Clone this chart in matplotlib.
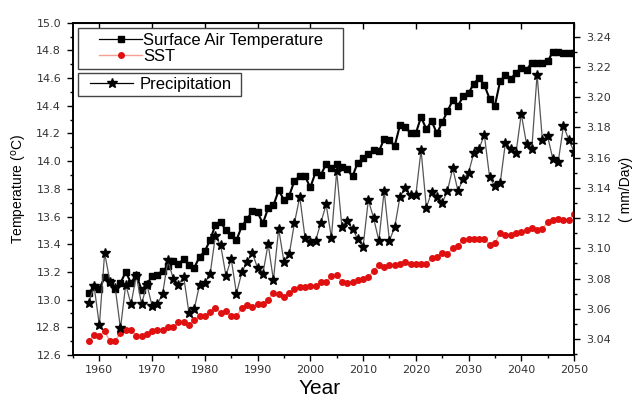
import matplotlib
matplotlib.use("Agg")
import matplotlib.pyplot as plt
from matplotlib.ticker import MultipleLocator
from matplotlib.patches import Rectangle
from matplotlib.lines import Line2D

plt.rcParams['font.family'] = ['Liberation Sans', 'DejaVu Sans']

years = list(range(1958, 2051))

sat = [13.05, 13.09, 13.08, 13.16, 13.13, 13.08, 13.12, 13.20, 13.12, 13.18,
       13.07, 13.11, 13.17, 13.18, 13.21, 13.24, 13.28, 13.26, 13.29, 13.25,
       13.23, 13.31, 13.35, 13.43, 13.54, 13.56, 13.50, 13.47, 13.43, 13.53,
       13.58, 13.64, 13.63, 13.55, 13.66, 13.68, 13.79, 13.72, 13.75, 13.86,
       13.89, 13.89, 13.81, 13.92, 13.90, 13.98, 13.95, 13.98, 13.96, 13.94,
       13.89, 13.99, 14.02, 14.05, 14.08, 14.07, 14.16, 14.15, 14.11, 14.26,
       14.25, 14.20, 14.20, 14.32, 14.23, 14.29, 14.20, 14.28, 14.36, 14.44,
       14.40, 14.47, 14.49, 14.56, 14.60, 14.55, 14.45, 14.40, 14.58, 14.62,
       14.59, 14.64, 14.67, 14.66, 14.71, 14.71, 14.71, 14.72, 14.79, 14.785,
       14.78, 14.78, 14.78]

sst = [12.70, 12.745, 12.74, 12.77, 12.70, 12.70, 12.76, 12.78, 12.78, 12.74,
       12.74, 12.75, 12.77, 12.78, 12.78, 12.80, 12.80, 12.835, 12.835, 12.82,
       12.85, 12.88, 12.88, 12.91, 12.94, 12.905, 12.92, 12.88, 12.88, 12.94,
       12.96, 12.945, 12.97, 12.97, 13.00, 13.05, 13.04, 13.02, 13.05, 13.08,
       13.09, 13.09, 13.10, 13.10, 13.13, 13.125, 13.17, 13.18, 13.125, 13.12,
       13.13, 13.14, 13.15, 13.16, 13.21, 13.25, 13.235, 13.25, 13.25, 13.26,
       13.27, 13.26, 13.26, 13.26, 13.255, 13.30, 13.31, 13.335, 13.33, 13.37,
       13.39, 13.43, 13.44, 13.44, 13.44, 13.44, 13.395, 13.41, 13.48, 13.47,
       13.47, 13.48, 13.49, 13.50, 13.515, 13.50, 13.51, 13.56, 13.575, 13.58,
       13.575, 13.575, 13.62]

precip = [3.064, 3.075, 3.049, 3.097, 3.078, 3.074, 3.047, 3.076, 3.063, 3.082,
          3.063, 3.076, 3.062, 3.063, 3.070, 3.092, 3.080, 3.076, 3.081, 3.057,
          3.060, 3.076, 3.077, 3.083, 3.108, 3.102, 3.082, 3.093, 3.070, 3.084,
          3.091, 3.097, 3.087, 3.083, 3.103, 3.079, 3.113, 3.091, 3.096, 3.117,
          3.134, 3.107, 3.104, 3.105, 3.117, 3.129, 3.107, 3.151, 3.114, 3.118,
          3.113, 3.106, 3.101, 3.132, 3.120, 3.105, 3.138, 3.105, 3.114, 3.134,
          3.140, 3.135, 3.135, 3.165, 3.127, 3.137, 3.134, 3.130, 3.138, 3.153,
          3.138, 3.146, 3.150, 3.163, 3.166, 3.175, 3.147, 3.141, 3.143, 3.170,
          3.166, 3.163, 3.189, 3.169, 3.166, 3.215, 3.172, 3.174, 3.159, 3.157,
          3.181, 3.172, 3.164]

W, H = 635, 403
fig = plt.figure(figsize=(W/100, H/100), dpi=100)
ax = fig.add_axes([73/W, 1-355/H, (574-73)/W, (355-22.7)/H])
ax2 = ax.twinx()

l1, = ax.plot(years, sat, color='black', lw=1.5, marker='s', ms=4.2, zorder=3)
l2, = ax.plot(years, sst, color='#f4a090', lw=1.0, marker='o', ms=4.0,
              markerfacecolor='#e01010', markeredgecolor='#e01010', zorder=3)
l3, = ax2.plot(years, precip, color='#555555', lw=0.9, marker='*', ms=7.5,
               markerfacecolor='black', markeredgecolor='black', zorder=3)

ax.set_xlim(1955, 2050)
ax.set_ylim(12.6, 15.0)
ax2.set_ylim(3.0294, 3.2493)

ax.xaxis.set_major_locator(MultipleLocator(10))
ax.xaxis.set_minor_locator(MultipleLocator(5))
ax.yaxis.set_major_locator(MultipleLocator(0.2))
ax.yaxis.set_minor_locator(MultipleLocator(0.1))
ax2.yaxis.set_major_locator(MultipleLocator(0.02))
ax2.yaxis.set_minor_locator(MultipleLocator(0.01))
ax.yaxis.set_major_formatter(plt.FormatStrFormatter('%.1f'))
ax2.yaxis.set_major_formatter(plt.FormatStrFormatter('%.2f'))

ax.tick_params(axis='x', which='both', direction='out', top=False)
ax.tick_params(axis='x', which='major', length=4.5, width=1, pad=3)
ax.tick_params(axis='x', which='minor', length=2.5, width=1)
ax.tick_params(axis='y', which='major', direction='out', length=4.5, width=1, pad=4)
ax.tick_params(axis='y', which='minor', direction='out', length=2.5, width=1)
ax2.tick_params(axis='y', which='major', direction='out', length=4.5, width=1, pad=4)
ax2.tick_params(axis='y', which='minor', direction='out', length=2.5, width=1)
for t in ax.get_xticklabels() + ax.get_yticklabels() + ax2.get_yticklabels():
    t.set_color('#333333')
    t.set_fontfamily('DejaVu Sans')
    t.set_fontsize(8)

for a in (ax, ax2):
    for s in a.spines.values():
        s.set_linewidth(1.2)

secx = ax.secondary_xaxis('top')
secx.xaxis.set_major_locator(MultipleLocator(10))
secx.tick_params(direction='in', length=4, width=1, labeltop=False)

fig.text(320/W, 1-394/H, 'Year', fontsize=15, ha='center', va='baseline')
fig.text(20/W, 1-189/H, r'Temperature ($^{\mathrm{o}}$C)', fontsize=10,
         rotation=90, ha='center', va='center')
fig.text(626/W, 1-189/H, '( mm/Day)', fontsize=10, rotation=90,
         ha='center', va='center')

def frame(x0, y0, x1, y1):
    fig.add_artist(Rectangle((x0/W, 1-y1/H), (x1-x0)/W, (y1-y0)/H,
                             transform=fig.transFigure, fill=True,
                             facecolor='white', edgecolor='#444444', lw=1.0, zorder=5))

frame(78, 28, 343, 69)
frame(78, 73, 241, 96)

h1 = Line2D([], [], color='black', lw=0.9, marker='s', ms=4.2)
h2 = Line2D([], [], color='#f4a090', lw=1.0, marker='o', ms=4.0,
            markerfacecolor='#e01010', markeredgecolor='#e01010')
h3 = Line2D([], [], color='black', lw=0.9, marker='*', ms=7.5)

leg1 = fig.legend([h1, h2], ['Surface Air Temperature', 'SST'], loc='center left',
                  bbox_to_anchor=(99/W, 1-48.7/H), fontsize=12, frameon=False,
                  handlelength=2.6, handletextpad=0.05, borderpad=0,
                  labelspacing=0.05, borderaxespad=0)
leg1.set_zorder(6)
leg2 = fig.legend([h3], ['Precipitation'], loc='center left',
                  bbox_to_anchor=(90/W, 1-84.5/H), fontsize=12, frameon=False,
                  handlelength=2.6, handletextpad=0.35, borderpad=0, borderaxespad=0)
leg2.set_zorder(6)

fig.savefig('out.png', dpi=100)
